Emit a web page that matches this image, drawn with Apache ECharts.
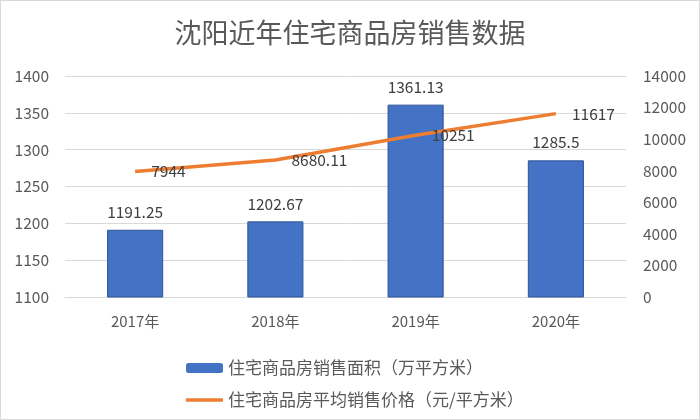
<!DOCTYPE html>
<html>
<head>
<meta charset="utf-8">
<script src="https://cdn.jsdelivr.net/npm/echarts@6/dist/echarts.min.js"></script>
<style>
html,body{margin:0;padding:0;background:#fff;}
#c{width:698px;height:418px;border:1px solid #d9d9d9;}
</style>
</head>
<body>
<div id="c"></div>
<script>
const titleText = '沈阳近年住宅商品房销售数据';
const categories = ['2017年', '2018年', '2019年', '2020年'];
const areaName = '住宅商品房销售面积（万平方米）';
const priceName = '住宅商品房平均销售价格（元/平方米）';
const areaValues = [1191.25, 1202.67, 1361.13, 1285.5];
const priceValues = [7944, 8680.11, 10251, 11617];

const FONT = '"Noto Sans CJK SC", "Noto Sans", sans-serif';
const chart = echarts.init(document.getElementById('c'));
chart.setOption({
  animation: false,
  textStyle: { fontFamily: FONT },
  title: {
    text: titleText, left: 'center', top: 13,
    textStyle: { fontFamily: FONT, fontSize: 27, fontWeight: 'normal', color: '#595959' }
  },
  grid: { left: 64, right: 73, top: 75, bottom: 122, containLabel: false },
  legend: {
    orient: 'vertical', left: 180, top: 352, itemWidth: 37, itemHeight: 10, itemGap: 12,
    textStyle: { fontFamily: FONT, fontSize: 17, color: '#595959', lineHeight: 20 },
    data: [
      { name: areaName, itemStyle: { borderWidth: 0 } },
      { name: priceName, icon: 'path://M0 0H37V3.5H0Z' }
    ]
  },
  xAxis: {
    type: 'category', data: categories,
    axisLine: { show: true, lineStyle: { color: '#d9d9d9' } },
    axisTick: { show: false },
    axisLabel: { fontFamily: FONT, fontSize: 15, color: '#595959', margin: 17 }
  },
  yAxis: [
    {
      type: 'value', min: 1100, max: 1400, interval: 50,
      axisLine: { show: false }, axisTick: { show: false },
      axisLabel: { fontFamily: FONT, fontSize: 15.5, color: '#595959', margin: 16, formatter: v => String(v) },
      splitLine: { lineStyle: { color: '#d9d9d9', width: 1 } }
    },
    {
      type: 'value', min: 0, max: 14000, interval: 2000,
      axisLine: { show: false }, axisTick: { show: false },
      axisLabel: { fontFamily: FONT, fontSize: 15.5, color: '#595959', margin: 17, formatter: v => String(v) },
      splitLine: { show: false }
    }
  ],
  series: [
    {
      name: areaName, type: 'bar', data: areaValues, barWidth: '40%',
      itemStyle: { color: '#4472C4', borderColor: '#2F5597', borderWidth: 1 },
      label: { show: true, position: 'top', distance: 10, fontFamily: FONT, fontSize: 15.5, color: '#404040' }
    },
    {
      name: priceName, type: 'line', yAxisIndex: 1, data: priceValues,
      symbol: 'circle', symbolSize: 0.1, showSymbol: true, smooth: false,
      lineStyle: { color: '#ED7D31', width: 3.5 },
      itemStyle: { color: '#ED7D31' },
      label: { show: true, position: 'right', distance: 16, fontFamily: FONT, fontSize: 15.5, color: '#404040' }
    }
  ]
});
</script>
</body>
</html>
